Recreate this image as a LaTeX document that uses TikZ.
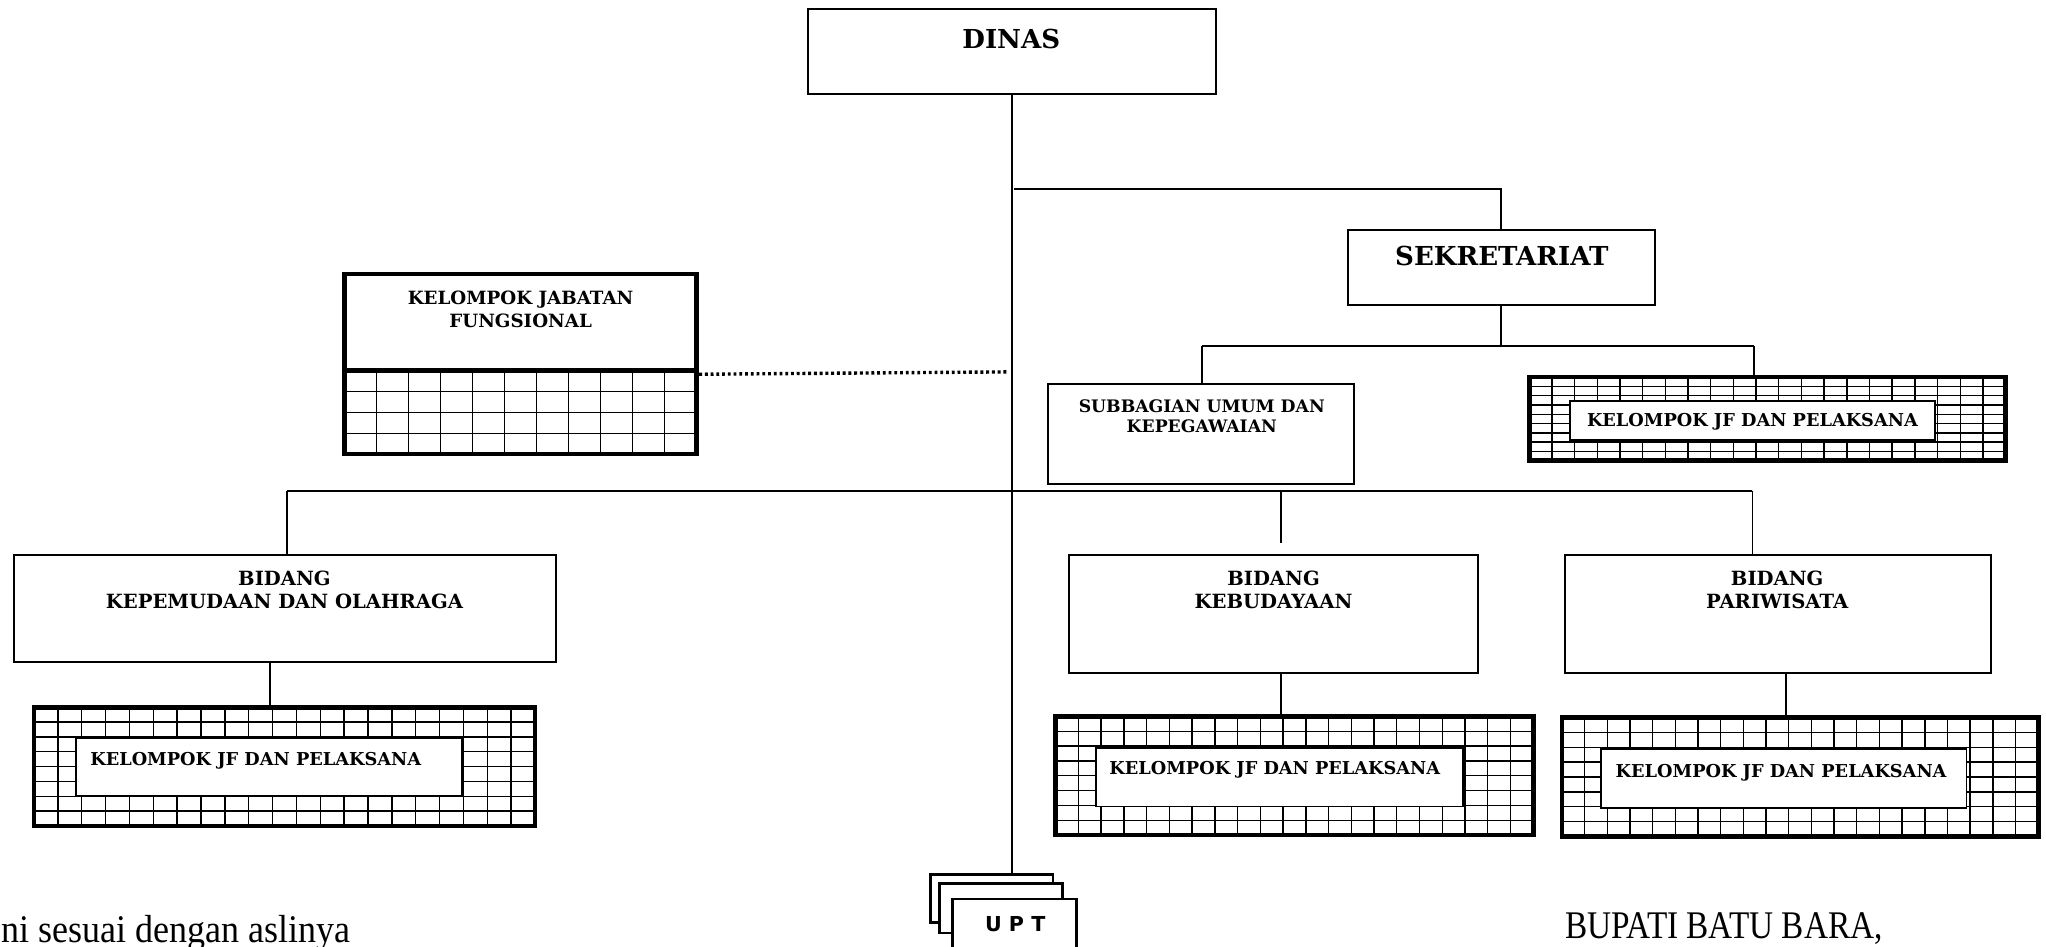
\documentclass[tikz,border=0pt]{standalone}
\usepackage{fontspec}
\setmainfont{DejaVu Serif}
\newfontfamily\plainserif{Liberation Serif}
\newfontfamily\uptfont{DejaVu Sans}
\usetikzlibrary{calc}
\newcommand\boxnode[7]{%
  \pgfmathsetmacro\bw{(#4-#2)*0.5}%
  \pgfmathsetmacro\bh{(#5-#3)*0.5}%
  \node[#6, minimum width=\bw pt, minimum height=\bh pt] (#1) at ({(#2+#4)/2},{(#3+#5)/2}) {#7};}
\newcommand\gridfill[6]{%
  \begin{scope}
    \clip (#1,#2) rectangle (#3,#4);
    \foreach \i in {1,...,#5}{%
      \pgfmathsetmacro\gx{#1+\i*(#3-#1)/#5}%
      \draw[gridline] (\gx,#2) -- (\gx,#4);}
    \foreach \j in {1,...,#6}{%
      \pgfmathsetmacro\gy{#2+\j*(#4-#2)/#6}%
      \draw[gridline] (#1,\gy) -- (#3,\gy);}
  \end{scope}}
\begin{document}
\begin{tikzpicture}[x=0.5pt,y=-0.5pt,
  box/.style={draw, line width=0.75pt, inner sep=0pt, fill=white},
  frame/.style={draw, line width=1.8pt, inner sep=0pt},
  innerbox/.style={draw, line width=0.7pt, inner sep=0pt, fill=white},
  uptbox/.style={draw, line width=1.1pt, inner sep=0pt, fill=white},
  gridline/.style={line width=0.55pt},
  conn/.style={line width=0.7pt},
  dotconn/.style={line width=1.3pt, dash pattern=on 1.1pt off 1.1pt},
  big/.style={font=\fontsize{10}{12}\selectfont\bfseries, align=center},
  mid/.style={font=\fontsize{7.5}{9}\selectfont\bfseries, align=center},
  small/.style={font=\fontsize{7}{9}\selectfont\bfseries, align=center},
  jf/.style={font=\fontsize{6.8}{8}\selectfont\bfseries, align=center}]
\useasboundingbox (0,0) rectangle (1568,725);
\clip (0,0) rectangle (1568,725);

% DINAS
\boxnode{dinas}{619}{7}{932}{72}{box}{}
\node[big] (dinasT) at (775,30) {DINAS};

% SEKRETARIAT
\boxnode{sek}{1033}{176}{1268}{234}{box}{}
\node[big] (sekT) at (1151,196) {SEKRETARIAT};

% SUBBAGIAN
\boxnode{subbag}{803}{294}{1038}{371}{box}{}
\node[font=\fontsize{6.6}{8}\selectfont\bfseries, align=center] (subbagT) at (921,319) {SUBBAGIAN UMUM DAN\\KEPEGAWAIAN};

% KJF sekretariat
\gridfill{1172}{289}{1537}{353}{21}{9}
\boxnode{sekgrid}{1172}{289}{1537}{353}{frame}{}
\boxnode{sekin}{1203}{307}{1483}{337}{innerbox}{}
\node[jf] (sekinT) at (1343,323) {KELOMPOK JF DAN PELAKSANA};

% Kelompok Jabatan Fungsional
\gridfill{264}{284}{534}{348}{11}{4}
\boxnode{kjfgrid}{264}{284}{534}{348}{frame}{}
\boxnode{kjf}{264}{210}{534}{284}{frame}{}
\node[small] (kjfT) at (399,237) {KELOMPOK JABATAN\\FUNGSIONAL};

% BIDANG KEPEMUDAAN
\boxnode{kep}{11}{425}{426}{507}{box}{}
\node[mid] (kepT) at (218,452) {BIDANG\\KEPEMUDAAN DAN OLAHRAGA};
\gridfill{26}{542}{410}{633}{21}{8}
\boxnode{kepgrid}{26}{542}{410}{633}{frame}{}
\boxnode{kepin}{58}{566}{354}{610}{innerbox}{}
\node[jf] (kepinT) at (196,583) {KELOMPOK JF DAN PELAKSANA};

% BIDANG KEBUDAYAAN
\boxnode{keb}{819}{425}{1133}{516}{box}{}
\node[mid] (kebT) at (976,452) {BIDANG\\KEBUDAYAAN};
\gridfill{809}{549}{1175}{640}{21}{8}
\boxnode{kebgrid}{809}{549}{1175}{640}{frame}{}
\boxnode{kebin}{840}{573}{1121}{618}{innerbox}{}
\node[jf] (kebinT) at (977,590) {KELOMPOK JF DAN PELAKSANA};

% BIDANG PARIWISATA
\boxnode{par}{1199}{425}{1526}{516}{box}{}
\node[mid] (parT) at (1362,452) {BIDANG\\PARIWISATA};
\gridfill{1197}{550}{1562}{641}{21}{8}
\boxnode{pargrid}{1197}{550}{1562}{641}{frame}{}
\boxnode{parin}{1227}{574}{1507}{619}{innerbox}{}
\node[jf] (parinT) at (1365,592) {KELOMPOK JF DAN PELAKSANA};

% UPT stack
\boxnode{upt1}{713}{670}{807}{707}{uptbox}{}
\boxnode{upt2}{720}{677}{814}{715}{uptbox}{}
\boxnode{upt3}{730}{689}{825}{750}{uptbox}{}
\node[font=\fontsize{7.9}{9}\selectfont\uptfont\bfseries] (uptT) at (778,708) {U\hspace{0.35em}P\hspace{0.35em}T};

% bottom texts
\node[anchor=base east, inner sep=0pt, font=\fontsize{15}{17}\selectfont\plainserif] (salin) at (269,722) {\scalebox{0.92}[1]{ni sesuai dengan aslinya}};
\node[anchor=base west, inner sep=0pt, font=\fontsize{15}{17}\selectfont\plainserif] (bupati) at (1199,719) {\scalebox{0.85}[1]{BUPATI BATU BARA,}};

% junction coordinates
\coordinate (j1) at (777,145);
\coordinate (j2l) at (921,265);
\coordinate (j2r) at (1344,265);
\coordinate (j3l) at (220,376);
\coordinate (j3m) at (982,376);
\coordinate (j3mend) at (982,416);
\coordinate (j3r) at (1343,376);
\coordinate (kx) at (207,0);
\coordinate (bx) at (982,0);
\coordinate (px) at (1369,0);
\coordinate (dotend) at (772,285);

% connectors
\draw[conn] (dinas.south) -- (dinas.south |- upt1.north);
\draw[conn] (j1) -| (sek.north);
\draw[conn] (sek.south) -- (sek.south |- j2l);
\draw[conn] (j2l) -- (j2r);
\draw[conn] (j2l) -- (j2l |- subbag.north);
\draw[conn] (j2r) -- (j2r |- sekgrid.north);
\draw[dotconn] (kjf.south east) ++(0,1) -- (dotend);
\draw[conn] (j3l) -- (j3r);
\draw[conn] (j3l) -- (j3l |- kep.north);
\draw[conn] (j3m) -- (j3mend);
\draw[conn] (j3r) -- (j3r |- par.north);
\draw[conn] (kep.south -| kx) -- (kepgrid.north -| kx);
\draw[conn] (keb.south -| bx) -- (kebgrid.north -| bx);
\draw[conn] (par.south -| px) -- (pargrid.north -| px);
\end{tikzpicture}
\end{document}
